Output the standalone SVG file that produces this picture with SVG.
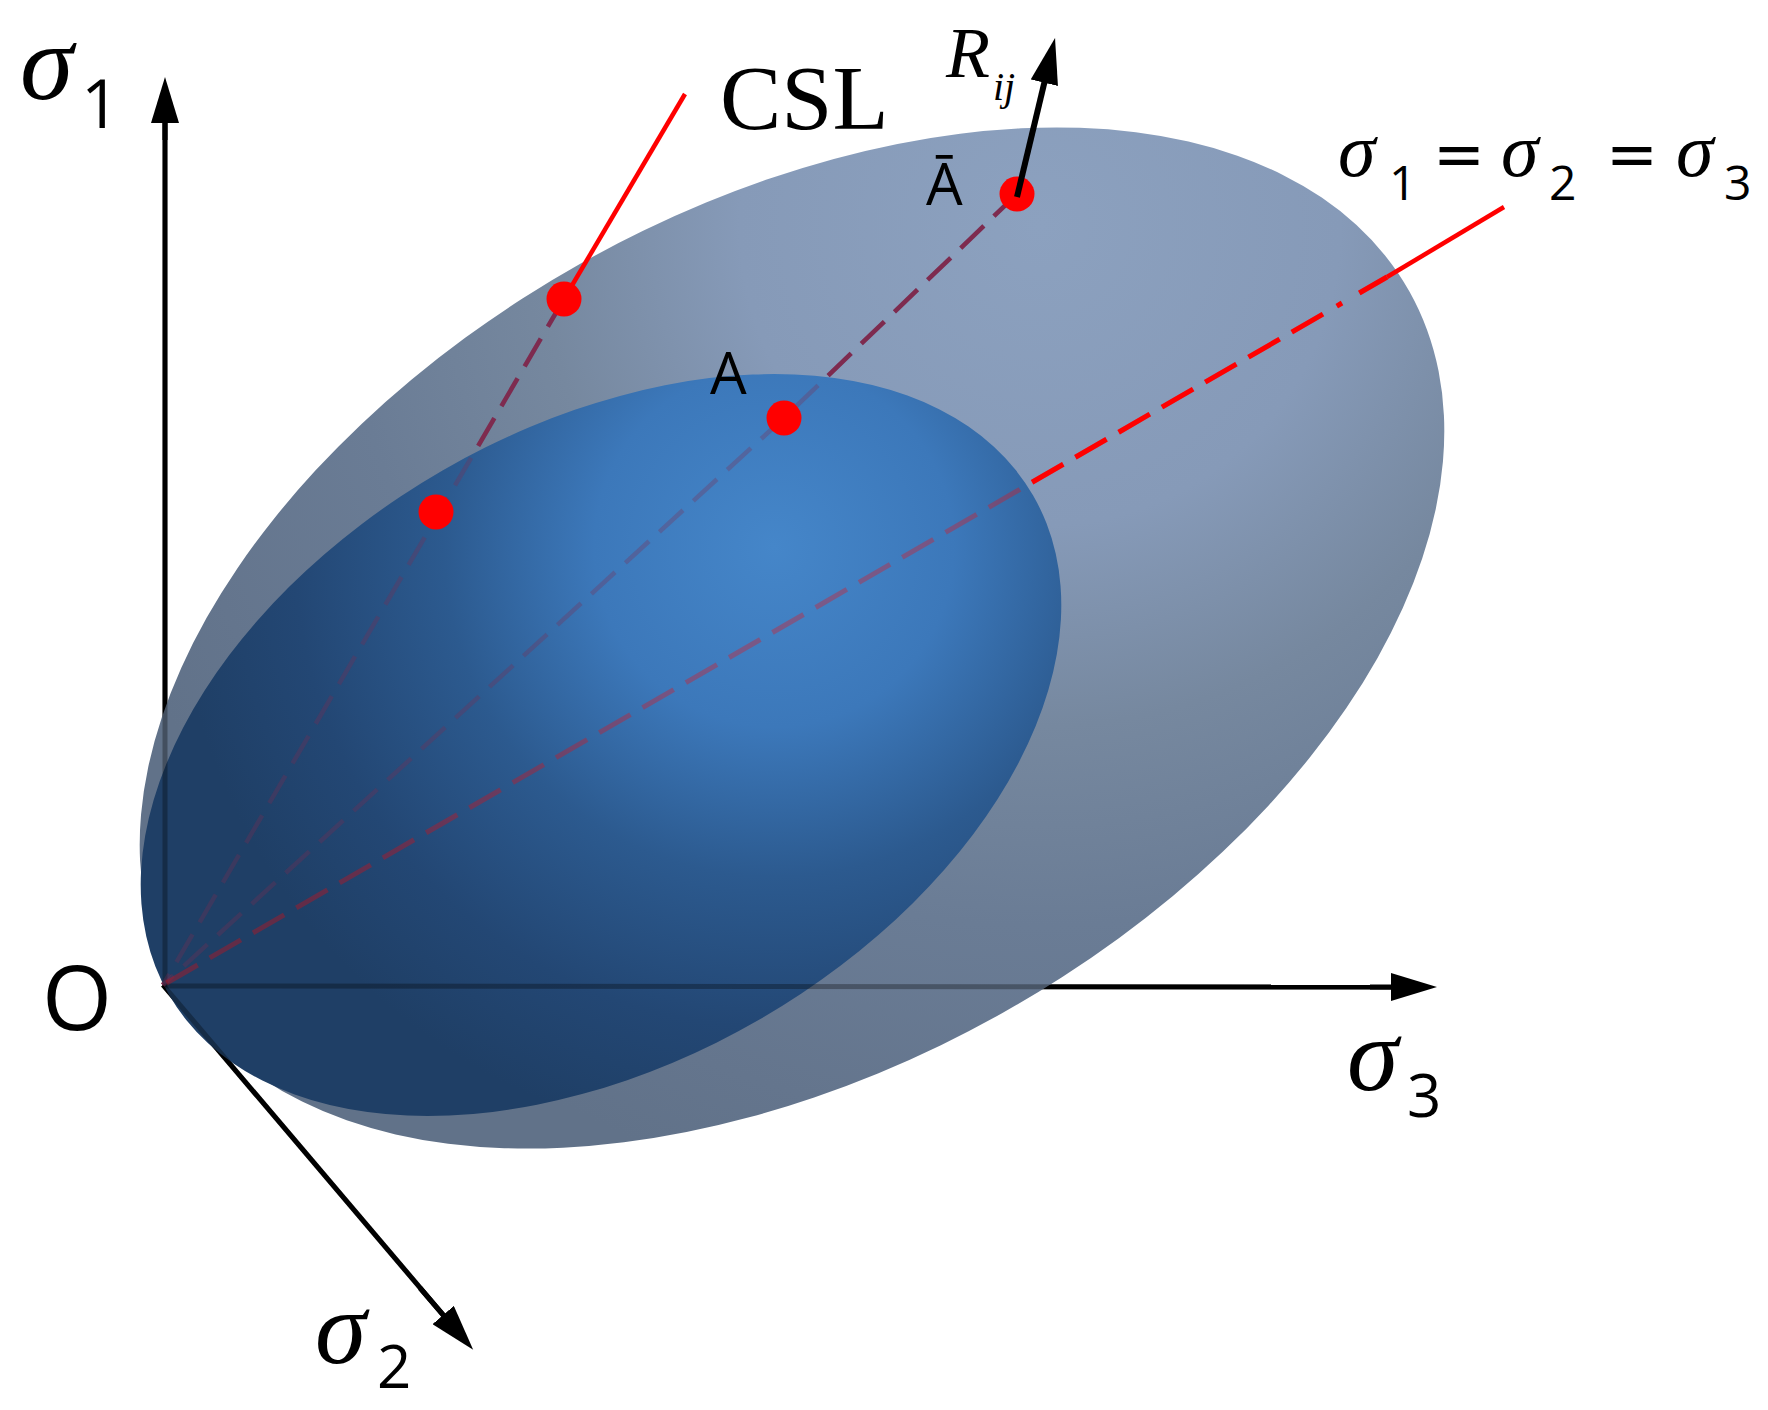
<svg xmlns="http://www.w3.org/2000/svg" width="1768" height="1410" viewBox="0 0 1768 1410">
<style>
.sig{font-family:"Liberation Serif",serif;font-style:italic;fill:#000}
.ser{font-family:"Liberation Serif",serif;fill:#000}
.sans{font-family:"Open Sans","DejaVu Sans",sans-serif;fill:#000}
.eq{font-family:"DejaVu Sans",sans-serif;fill:#000}
.axis{stroke:#000;stroke-width:5;fill:none}
.axisOver{stroke:#000;stroke-width:5;fill:none;opacity:0.3}
.dash{stroke:#7e2c50;stroke-width:4.5;fill:none;stroke-dasharray:32 14}
.hyd{stroke:#ff0000;stroke-width:5;fill:none;stroke-dasharray:32 20 6 16 36 14 36 14 36 14 36 14 36 14 36 14 36 14 36 14 36 14 36 14 36 14 36 14 36 14 36 14 36 14 36 14 36 14 36 14 36 14 36 14 36 14 36 14 36 14 36 14 36 14 36 14 36 14 36 14 36 14 36 14 36 14 36 14}
.solid{stroke:#ff0000;stroke-width:4.5;fill:none}
.dot{fill:#ff0000}
</style>
<defs>
<radialGradient id="gOuter" gradientUnits="userSpaceOnUse" cx="1210" cy="400" r="1000">
<stop offset="0" stop-color="#8ca1bf"/>
<stop offset="0.3" stop-color="#869ab8"/>
<stop offset="0.5" stop-color="#76889f"/>
<stop offset="0.7" stop-color="#6a7c95"/>
<stop offset="0.9" stop-color="#64758d"/>
<stop offset="1" stop-color="#617289"/>
</radialGradient>
<radialGradient id="gInner" gradientUnits="userSpaceOnUse" cx="850" cy="660" r="600">
<stop offset="0" stop-color="#4586c9"/>
<stop offset="0.3" stop-color="#3c78ba"/>
<stop offset="0.55" stop-color="#2c5a8f"/>
<stop offset="0.8" stop-color="#234774"/>
<stop offset="1" stop-color="#1f3f66"/>
</radialGradient>
<marker id="arr" viewBox="0 0 46 28" refX="2" refY="14" markerUnits="userSpaceOnUse" markerWidth="46" markerHeight="28" orient="auto">
<path d="M0,0 L46,14 L0,28 Z" fill="#000"/>
</marker>
</defs>
<rect width="1768" height="1410" fill="#fff"/>

<g id="axes-under">
<line class="axis" x1="165" y1="987" x2="165" y2="121"/>
<line class="axis" x1="163" y1="986" x2="1393" y2="987"/>
<line class="axis" x1="163" y1="985" x2="444.5" y2="1316.5" stroke-width="4"/>
</g>

<g id="outer-surface">
<ellipse cx="792" cy="638" rx="708" ry="430" transform="rotate(-29.3 792 638)" fill="url(#gOuter)"/>
</g>

<g id="connectors">
<path class="dash" d="M564,299 L163,985"/>
<path class="dash" d="M1017,194 L784,418 L163,985"/>
<path class="hyd" d="M1387,277 L163,985"/>
</g>

<g id="inner-surface">
<ellipse cx="601" cy="745" rx="499" ry="317" transform="rotate(-30 601 745)" fill="url(#gInner)"/>
</g>

<g id="connectors-through">
<line class="axisOver" x1="165" y1="987" x2="165" y2="121"/>
<line class="axisOver" x1="163" y1="986" x2="1393" y2="987"/>
<line class="axisOver" x1="163" y1="985" x2="444.5" y2="1316.5" stroke-width="4"/>
<path class="dash" d="M564,299 L163,985" opacity="0.3"/>
<path class="dash" d="M1017,194 L784,418 L163,985" opacity="0.3"/>
<path class="hyd" d="M1387,277 L163,985" opacity="0.3"/>
<path class="solid" d="M685,94 L564,299"/>
<path class="solid" d="M1504,207 L1387,277" stroke-width="5"/>
</g>

<g id="axis-arrows">
<line class="axis" x1="165" y1="140" x2="165" y2="121" marker-end="url(#arr)"/>
<line class="axis" x1="1370" y1="987" x2="1393" y2="987" marker-end="url(#arr)"/>
<line class="axis" x1="420" y1="1288" x2="444.5" y2="1316.5" stroke-width="4" marker-end="url(#arr)"/>
</g>

<g id="node-csl-upper"><circle class="dot" cx="564" cy="299" r="17.5"/></g>
<g id="node-csl-lower"><circle class="dot" cx="436" cy="512" r="17.5"/></g>
<g id="node-A"><circle class="dot" cx="784" cy="418" r="17.5"/><text class="sans" x="710" y="394" font-size="58">A</text></g>
<g id="node-Abar"><circle class="dot" cx="1017" cy="194" r="17.5"/><text class="sans" x="926" y="205" font-size="58">Ā</text></g>

<g id="node-Rij">
<line x1="1017" y1="197" x2="1044.8" y2="80.8" stroke="#000" stroke-width="6" marker-end="url(#arr)"/>
<text class="sig" x="946" y="77" font-size="72">R</text>
<text class="sig" x="993" y="100" font-size="40">ij</text>
</g>

<g id="label-csl"><text class="ser" x="720" y="129" font-size="92">CSL</text></g>

<g id="label-sigma1">
<text class="sig" x="20" y="99" font-size="108">σ</text>
<text class="sans" x="81" y="128" font-size="68">1</text>
</g>
<g id="label-sigma3">
<text class="sig" x="1347" y="1090" font-size="104">σ</text>
<text class="sans" x="1407" y="1117" font-size="60">3</text>
</g>
<g id="label-sigma2">
<text class="sig" x="315" y="1363" font-size="104">σ</text>
<text class="sans" x="377" y="1388" font-size="60">2</text>
</g>
<g id="label-O"><text class="sans" x="42" y="1030" font-size="90">O</text></g>

<g id="label-hydrostatic">
<text class="sig" x="1338" y="176" font-size="76">σ</text>
<text class="sans" x="1389" y="200" font-size="48">1</text>
<text class="eq" x="1433" y="176" font-size="62">=</text>
<text class="sig" x="1501" y="176" font-size="76">σ</text>
<text class="sans" x="1549" y="200" font-size="48">2</text>
<text class="eq" x="1606" y="176" font-size="62">=</text>
<text class="sig" x="1676" y="176" font-size="76">σ</text>
<text class="sans" x="1724" y="200" font-size="48">3</text>
</g>
</svg>
